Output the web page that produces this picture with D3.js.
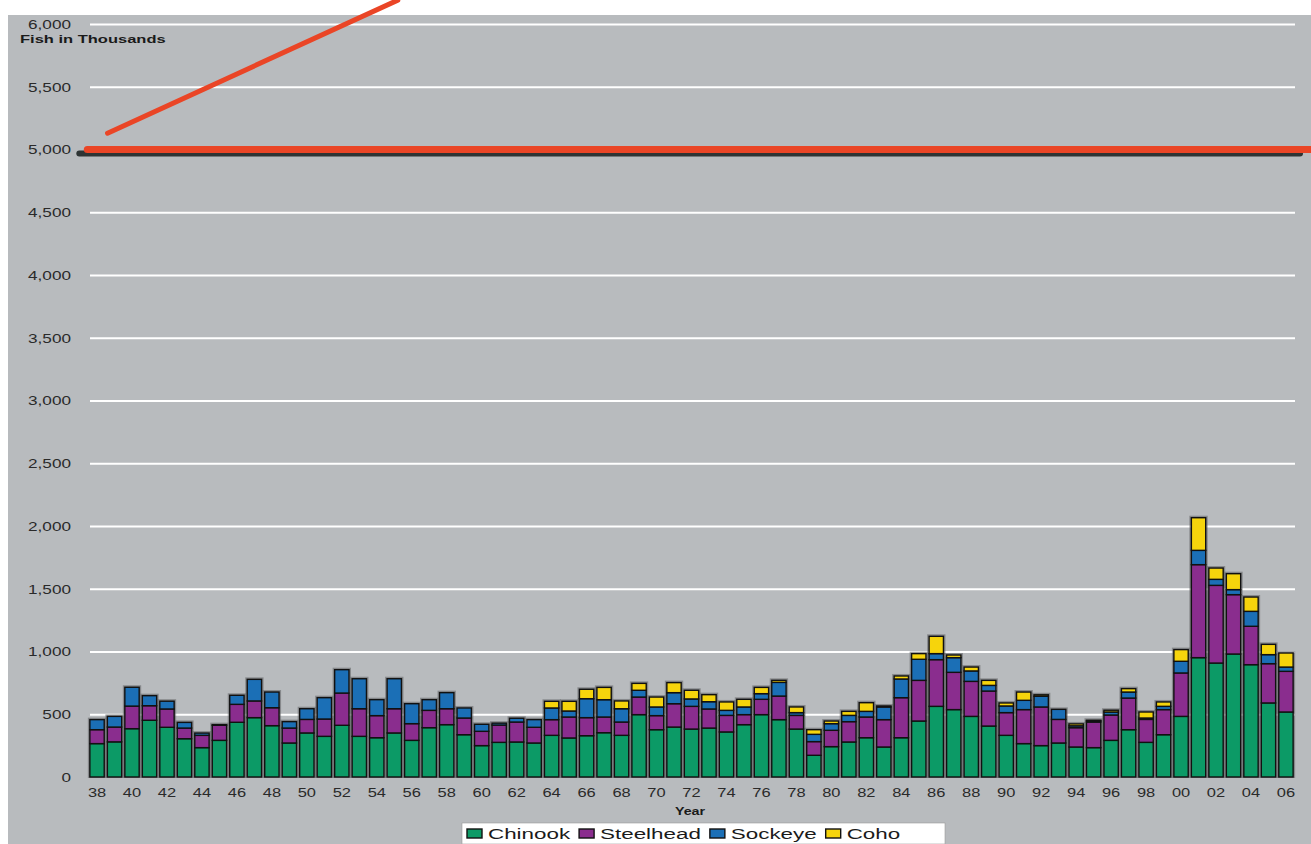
<!DOCTYPE html>
<html>
<head>
<meta charset="utf-8">
<script src="https://cdnjs.cloudflare.com/ajax/libs/d3/7.8.5/d3.min.js"></script>
<style>
  body { margin: 0; background: #fff; }
  svg { display: block; font-family: "Liberation Sans", Arial, sans-serif; }
</style>
</head>
<body>
<div id="chart"></div>
<script>
// fish counts (thousands) by year
var years = [1938, 1939, 1940, 1941, 1942, 1943, 1944, 1945, 1946, 1947,
             1948, 1949, 1950, 1951, 1952, 1953, 1954, 1955, 1956, 1957,
             1958, 1959, 1960, 1961, 1962, 1963, 1964, 1965, 1966, 1967,
             1968, 1969, 1970, 1971, 1972, 1973, 1974, 1975, 1976, 1977,
             1978, 1979, 1980, 1981, 1982, 1983, 1984, 1985, 1986, 1987,
             1988, 1989, 1990, 1991, 1992, 1993, 1994, 1995, 1996, 1997,
             1998, 1999, 2000, 2001, 2002, 2003, 2004, 2005, 2006];
var chinook = [266, 280, 385, 452, 396, 305, 234, 292, 436, 473,
               409, 271, 351, 324, 412, 324, 313, 351, 292, 393,
               417, 337, 250, 276, 279, 271, 332, 311, 329, 353,
               332, 497, 377, 398, 382, 390, 359, 417, 497, 457,
               382, 173, 242, 279, 313, 239, 313, 446, 563, 537,
               483, 406, 332, 266, 250, 271, 239, 234, 292, 377,
               276, 337, 483, 951, 908, 980, 895, 590, 518];
var steelhead = [111, 118, 180, 116, 146, 85, 98, 120, 143, 133,
                 143, 119, 108, 138, 257, 220, 176, 193, 133, 138,
                 127, 133, 114, 138, 159, 125, 125, 167, 144, 125,
                 106, 140, 112, 186, 181, 152, 132, 80, 122, 188,
                 109, 109, 130, 162, 165, 218, 319, 324, 372, 297,
                 279, 279, 181, 271, 308, 188, 154, 204, 202, 252,
                 183, 200, 346, 741, 619, 473, 306, 313, 324];
var sockeye = [80, 85, 150, 80, 62, 45, 18, 5, 72, 172,
               125, 51, 85, 170, 186, 239, 127, 239, 159, 85,
               128, 80, 56, 15, 30, 61, 93, 48, 151, 138,
               106, 54, 69, 88, 59, 58, 40, 61, 45, 109,
               22, 58, 53, 50, 45, 101, 149, 168, 48, 117,
               83, 45, 53, 74, 85, 80, 15, 10, 24, 48,
               11, 26, 93, 114, 48, 40, 119, 72, 34];
var coho = [0, 0, 0, 0, 0, 0, 0, 0, 0, 0,
            0, 0, 0, 0, 0, 0, 0, 0, 0, 0,
            0, 0, 0, 0, 0, 0, 53, 77, 75, 98,
            62, 55, 79, 80, 69, 56, 67, 61, 50, 16,
            45, 37, 21, 32, 69, 8, 24, 45, 138, 21,
            31, 40, 24, 66, 12, 0, 15, 4, 14, 27,
            48, 35, 93, 260, 90, 127, 114, 82, 112];
var species = ["Chinook", "Steelhead", "Sockeye", "Coho"];
var colors = ["#0c9a66", "#8a2d8e", "#1b6fb6", "#f6d40c"];
var yTicks = [0, 500, 1000, 1500, 2000, 2500, 3000, 3500, 4000, 4500, 5000, 5500, 6000];
// hand-drawn annotation: the target line and the rising stroke
var targetValue = 5000;
var strokeYears = [1938.6, 1955.2];
var strokeValues = [5130, 6190];

var width = 1311, height = 844;

var svg = d3.select("#chart").append("svg")
    .attr("width", width)
    .attr("height", height);

// gray panel
svg.append("rect")
    .attr("x", 8).attr("y", 15)
    .attr("width", width - 8).attr("height", height - 15)
    .attr("fill", "#b8bbbe");

var x = d3.scaleBand()
    .domain(years)
    .range([88.3, 1294.7])
    .paddingInner(0.18)
    .paddingOuter(0.09);
var y = d3.scaleLinear()
    .domain([0, 6000])
    .range([777, 24]);

function yearX(yr) {
    return x(years[0]) + (yr - years[0]) * x.step() + x.bandwidth() / 2;
}

// y axis + white grid lines
var yAxis = svg.append("g")
    .attr("transform", "translate(90,0)")
    .call(d3.axisLeft(y).tickValues(yTicks).tickSize(-1205).tickFormat(d3.format(",")));
yAxis.select(".domain").remove();
yAxis.selectAll(".tick line")
    .attr("stroke", "#fff")
    .attr("stroke-width", 2)
    .attr("opacity", function (d) { return d === 0 ? 0 : 1; });
yAxis.selectAll(".tick text")
    .attr("x", -15)
    .attr("transform", "scale(1.27,1)")
    .attr("fill", "#2a2a2a")
    .style("font-size", "13.5px");

svg.append("text")
    .attr("transform", "translate(20,43) scale(1.5,1)")
    .attr("font-weight", "bold")
    .attr("font-size", "11px")
    .attr("fill", "#1a1a1a")
    .text("Fish in Thousands");

// stacked bars
var rows = years.map(function (yr, i) {
    return { year: yr, Chinook: chinook[i], Steelhead: steelhead[i], Sockeye: sockeye[i], Coho: coho[i] };
});
var stacked = d3.stack().keys(species)(rows);

// soft dark halo behind each bar
svg.append("g").selectAll("rect")
    .data(rows)
    .enter().append("rect")
    .attr("x", function (d) { return x(d.year) - 2; })
    .attr("y", function (d) { return y(d.Chinook + d.Steelhead + d.Sockeye + d.Coho) - 2; })
    .attr("width", x.bandwidth() + 4)
    .attr("height", function (d) { return y(0) - y(d.Chinook + d.Steelhead + d.Sockeye + d.Coho) + 3; })
    .attr("fill", "#5c5f61")
    .attr("opacity", 0.55);

svg.append("g").selectAll("g")
    .data(stacked)
    .enter().append("g")
    .attr("fill", function (d, i) { return colors[i]; })
    .selectAll("rect")
    .data(function (d) { return d.filter(function (s) { return s[1] > s[0]; }); })
    .enter().append("rect")
    .attr("x", function (d) { return x(d.data.year); })
    .attr("y", function (d) { return y(d[1]); })
    .attr("width", x.bandwidth())
    .attr("height", function (d) { return y(d[0]) - y(d[1]); })
    .attr("stroke", "#111")
    .attr("stroke-width", 1.4);

// x axis, even years only
var xAxis = svg.append("g")
    .attr("transform", "translate(0,777)")
    .call(d3.axisBottom(x).tickSize(0).tickPadding(10)
        .tickFormat(function (d) { return d % 2 === 0 ? String(d).slice(2) : ""; }));
xAxis.select(".domain").remove();
xAxis.selectAll(".tick text")
    .attr("transform", "scale(1.22,1)")
    .attr("fill", "#2a2a2a")
    .style("font-size", "13.5px");

svg.append("text")
    .attr("transform", "translate(690,815) scale(1.3,1)")
    .attr("text-anchor", "middle")
    .attr("font-weight", "bold")
    .attr("font-size", "11px")
    .attr("fill", "#1a1a1a")
    .text("Year");

// red target line with its shadow
svg.append("line")
    .attr("x1", x.range()[0] - 9).attr("x2", 1300)
    .attr("y1", y(targetValue) + 4).attr("y2", y(targetValue) + 4)
    .attr("stroke", "#2e3434")
    .attr("stroke-width", 6)
    .attr("stroke-linecap", "round");
svg.append("line")
    .attr("x1", x.range()[0] - 1).attr("x2", width + 10)
    .attr("y1", y(targetValue)).attr("y2", y(targetValue))
    .attr("stroke", "#ea4526")
    .attr("stroke-width", 7)
    .attr("stroke-linecap", "round");
svg.append("line")
    .attr("x1", yearX(strokeYears[0])).attr("y1", y(strokeValues[0]))
    .attr("x2", yearX(strokeYears[1])).attr("y2", y(strokeValues[1]))
    .attr("stroke", "#ea4526")
    .attr("stroke-width", 5)
    .attr("stroke-linecap", "round");

// legend
var legend = svg.append("g");
legend.append("rect")
    .attr("x", 462).attr("y", 823)
    .attr("width", 483).attr("height", 21)
    .attr("fill", "#fff")
    .attr("stroke", "#9a9a9a")
    .attr("stroke-width", 0.6);
var cursor = 467;
species.forEach(function (name, i) {
    legend.append("rect")
        .attr("x", cursor).attr("y", 829)
        .attr("width", 15).attr("height", 9)
        .attr("fill", colors[i])
        .attr("stroke", "#111")
        .attr("stroke-width", 1.4);
    cursor += 21;
    var t = legend.append("text")
        .attr("transform", "translate(" + cursor + ",839) scale(1.6,1)")
        .attr("font-size", "14px")
        .attr("fill", "#1a1a1a")
        .text(name);
    cursor += t.node().getComputedTextLength() * 1.6 + 9;
});
</script>
</body>
</html>
